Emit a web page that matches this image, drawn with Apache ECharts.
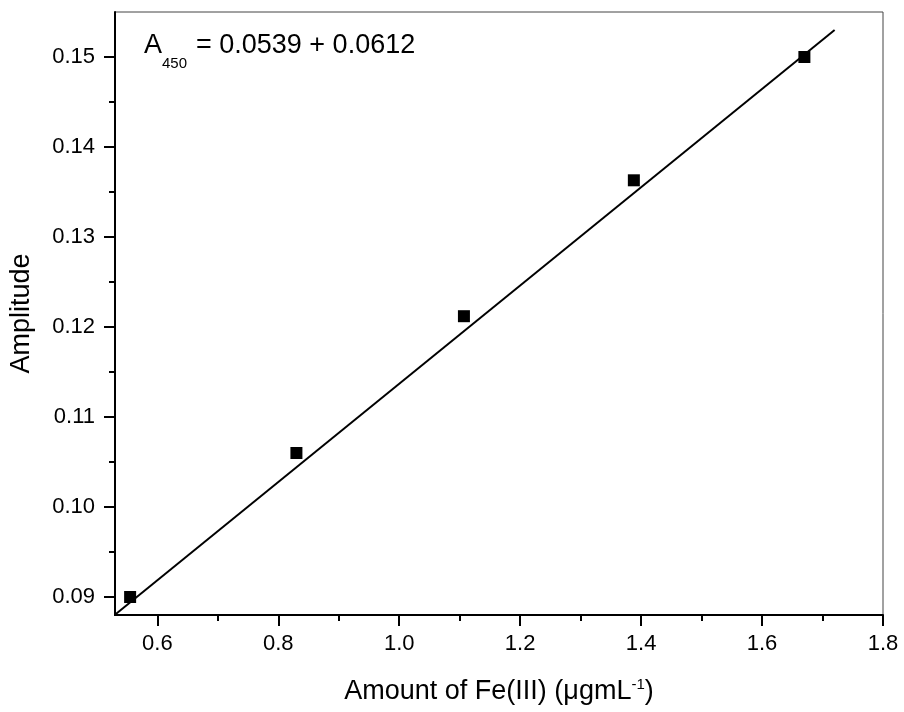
<!DOCTYPE html>
<html>
<head>
<meta charset="utf-8">
<script src="https://cdn.jsdelivr.net/npm/echarts@6/dist/echarts.min.js"></script>
<style>
html,body{margin:0;padding:0;background:#fff;}
#chart{width:904px;height:712px;}
</style>
</head>
<body>
<div id="chart"></div>
<script>
// Data
const xValues = [0.555, 0.83, 1.107, 1.388, 1.67];
const yValues = [0.090, 0.106, 0.1212, 0.1363, 0.150];
const fitX = [0.50, 1.72];
const fitY = [0.0864, 0.1530];
const xMajorTicks = [0.6, 0.8, 1.0, 1.2, 1.4, 1.6, 1.8];
const xMinorTicks = [0.7, 0.9, 1.1, 1.3, 1.5, 1.7];
const yMajorTicks = [0.09, 0.10, 0.11, 0.12, 0.13, 0.14, 0.15];
const yMinorTicks = [0.095, 0.105, 0.115, 0.125, 0.135, 0.145];
const xTitleMain = 'Amount of Fe(III) (\u03bcgmL';
const xTitleSup = '-1';
const yTitle = 'Amplitude';
const eqMain = 'A';
const eqSub = '450';
const eqRest = '= 0.0539 + 0.0612';

const FONT = '"Liberation Sans", Arial, Helvetica, sans-serif';
const chart = echarts.init(document.getElementById('chart'), null, {renderer: 'canvas'});

const scatterData = xValues.map((x, i) => [x, yValues[i]]);
const fitData = fitX.map((x, i) => [x, fitY[i]]);

const xBase = {
  type: 'value', min: 0.53, max: 1.8, gridIndex: 0, position: 'bottom',
  splitLine: {show: false}
};
const yBase = {
  type: 'value', min: 0.088, max: 0.155, gridIndex: 0, position: 'left',
  splitLine: {show: false}
};

chart.setOption({
  animation: false,
  backgroundColor: '#fff',
  grid: {left: 112, right: 21, top: 12, bottom: 97, show: true, borderColor: '#444', borderWidth: 1, backgroundColor: 'transparent'},
  xAxis: [
    Object.assign({}, xBase, {
      axisLine: {show: true, lineStyle: {color: '#000', width: 2}},
      axisTick: {show: true, inside: false, length: 11, lineStyle: {color: '#000', width: 2}, customValues: xMajorTicks},
      axisLabel: {show: true, margin: 18, fontSize: 22, color: '#000', fontFamily: FONT,
        customValues: xMajorTicks, formatter: v => v.toFixed(1)},
      name: '{m|' + xTitleMain + '}{s|' + xTitleSup + '}{m|)}',
      nameLocation: 'middle', nameGap: 62,
      nameTextStyle: {
        color: '#000', fontFamily: FONT, fontSize: 27,
        rich: {
          m: {fontSize: 27, fontFamily: FONT, color: '#000', lineHeight: 30},
          s: {fontSize: 15, fontFamily: FONT, color: '#000', lineHeight: 15, verticalAlign: 'top'}
        }
      }
    }),
    Object.assign({}, xBase, {
      axisLine: {show: false},
      axisTick: {show: true, length: 6, lineStyle: {color: '#000', width: 2}, customValues: xMinorTicks},
      axisLabel: {show: false}
    })
  ],
  yAxis: [
    Object.assign({}, yBase, {
      axisLine: {show: true, lineStyle: {color: '#000', width: 2}},
      axisTick: {show: true, length: 11, lineStyle: {color: '#000', width: 2}, customValues: yMajorTicks},
      axisLabel: {show: true, margin: 20, fontSize: 22, color: '#000', fontFamily: FONT,
        customValues: yMajorTicks, formatter: v => v.toFixed(2)},
      name: yTitle, nameLocation: 'middle', nameGap: 80,
      nameTextStyle: {color: '#000', fontFamily: FONT, fontSize: 27}
    }),
    Object.assign({}, yBase, {
      axisLine: {show: false},
      axisTick: {show: true, length: 6, lineStyle: {color: '#000', width: 2}, customValues: yMinorTicks},
      axisLabel: {show: false}
    })
  ],
  series: [
    {
      type: 'line', data: fitData, xAxisIndex: 0, yAxisIndex: 0,
      showSymbol: false, symbol: 'none', clip: true,
      lineStyle: {color: '#000', width: 2}, z: 2
    },
    {
      type: 'scatter', data: scatterData, xAxisIndex: 0, yAxisIndex: 0,
      symbol: 'rect', symbolSize: 12, itemStyle: {color: '#000', opacity: 1}, z: 3
    }
  ],
  graphic: [
    {type: 'text', left: 144, top: 32, style: {text: eqMain, font: '27px ' + FONT, fill: '#000'}},
    {type: 'text', left: 162, top: 56, style: {text: eqSub, font: '15px ' + FONT, fill: '#000'}},
    {type: 'text', left: 196, top: 32, style: {text: eqRest, font: '27px ' + FONT, fill: '#000'}}
  ]
});
</script>
</body>
</html>
